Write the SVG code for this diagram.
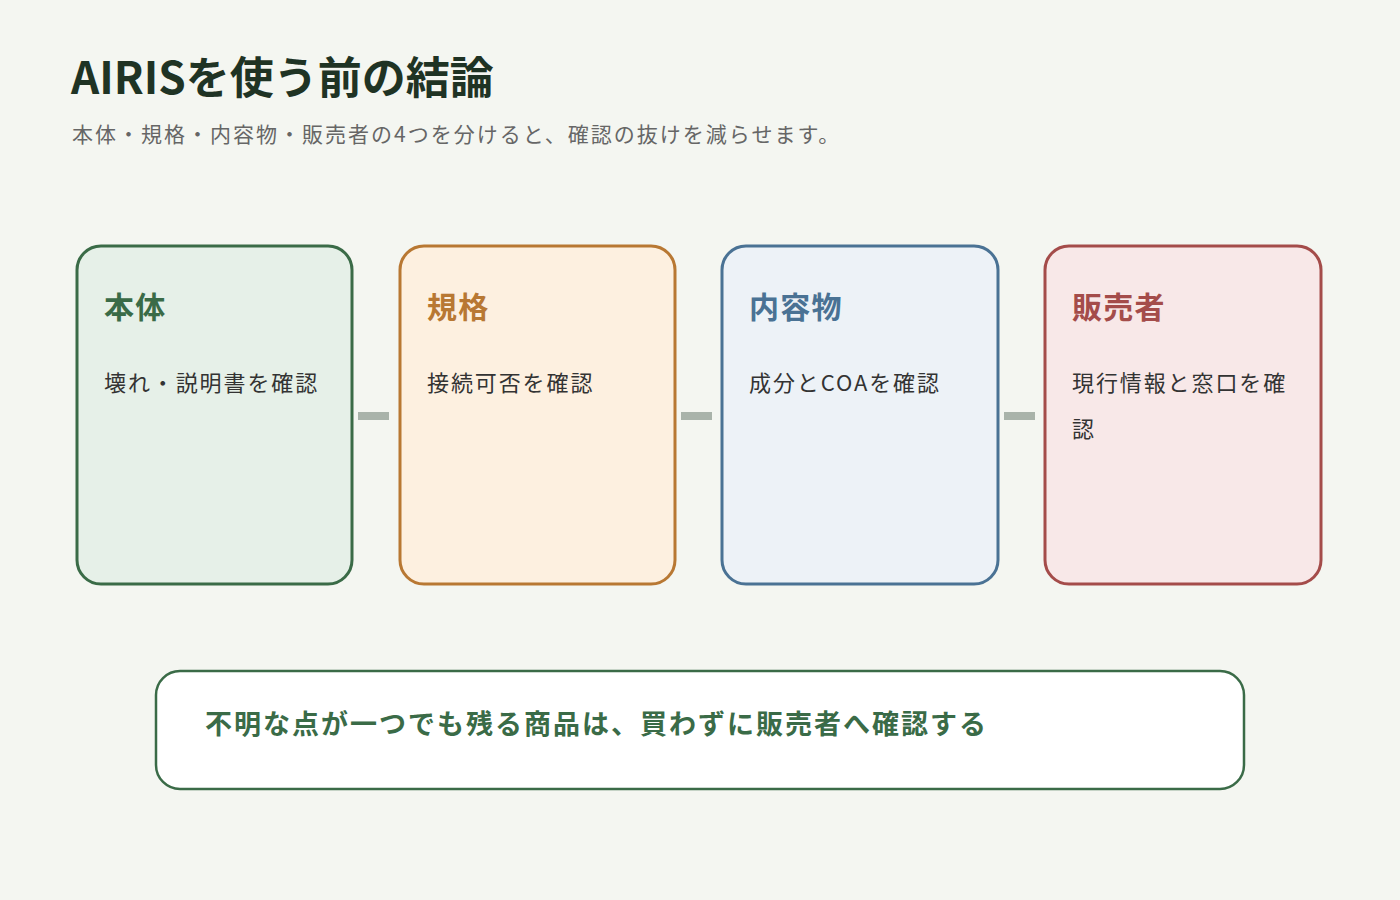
<svg xmlns="http://www.w3.org/2000/svg" width="1400" height="900" viewBox="0 0 1400 900">
<style>
text{font-family:"Noto Sans CJK JP","Noto Sans",sans-serif}
.card{stroke-width:3}
.h{font-size:30px;font-weight:700;letter-spacing:1.3px}
.b{font-size:22px;fill:#333;letter-spacing:1.9px}
.conn{stroke:#a9b3aa;stroke-width:8}
</style>
<rect width="1400" height="900" fill="#f4f6f1"/>
<text x="71" y="94" font-size="44" font-weight="700" fill="#1f3324">AIRISを使う前の結論</text>
<text x="72" y="142" font-size="21" fill="#666" letter-spacing="2">本体・規格・内容物・販売者の4つを分けると、確認の抜けを減らせます。</text>
<g id="connectors">
<line class="conn" x1="358" y1="416" x2="389" y2="416"/>
<line class="conn" x1="681" y1="416" x2="712" y2="416"/>
<line class="conn" x1="1004" y1="416" x2="1035" y2="416"/>
</g>
<g id="node-body">
<rect class="card" x="77" y="246" width="275" height="338" rx="24" fill="#e6f0e8" stroke="#3a6b47"/>
<text class="h" x="104" y="318" fill="#3a6b47">本体</text>
<text class="b" x="104" y="391">壊れ・説明書を確認</text>
</g>
<g id="node-spec">
<rect class="card" x="400" y="246" width="275" height="338" rx="24" fill="#fdf0e0" stroke="#b87833"/>
<text class="h" x="427" y="318" fill="#b87833">規格</text>
<text class="b" x="427" y="391">接続可否を確認</text>
</g>
<g id="node-contents">
<rect class="card" x="722" y="246" width="276" height="338" rx="24" fill="#edf2f7" stroke="#4a7294"/>
<text class="h" x="749" y="318" fill="#4a7294">内容物</text>
<text class="b" x="749" y="391">成分とCOAを確認</text>
</g>
<g id="node-seller">
<rect class="card" x="1045" y="246" width="276" height="338" rx="24" fill="#f8e8e8" stroke="#a44c4a"/>
<text class="h" x="1072" y="318" fill="#a44c4a">販売者</text>
<text class="b" x="1072" y="391">現行情報と窓口を確</text>
<text class="b" x="1072" y="437">認</text>
</g>
<g id="node-conclusion">
<rect x="156" y="671" width="1088" height="118" rx="24" fill="#fff" stroke="#3a6b47" stroke-width="2.5"/>
<text x="205" y="734" font-size="27" font-weight="700" fill="#3a6b47" letter-spacing="2">不明な点が一つでも残る商品は、買わずに販売者へ確認する</text>
</g>
</svg>
